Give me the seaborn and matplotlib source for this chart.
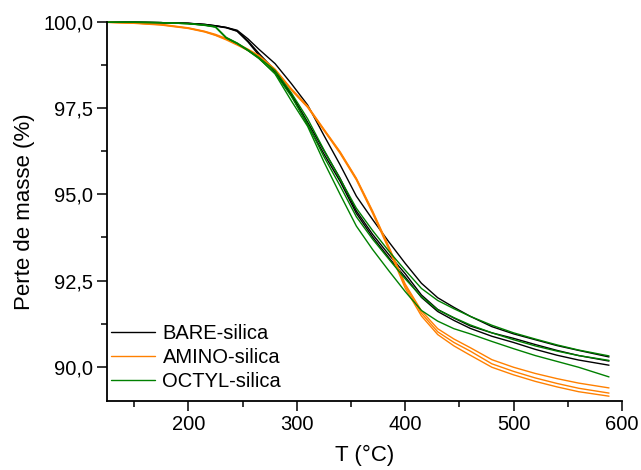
import numpy as np
import pandas as pd
import seaborn as sns
import matplotlib
matplotlib.use('Agg')
import matplotlib.pyplot as plt
from matplotlib.ticker import MultipleLocator, FuncFormatter

#temperature grid (°C) the curves were read at
temp = [125, 150, 175, 200, 215, 225, 235, 245, 255, 265, 280, 295, 310, 325, 340,
        355, 370, 385, 400, 415, 430, 445, 460, 480, 500, 520, 540, 560, 588]

#mass (%) - BARE-silica, 3 runs
bare_1 = [100.0, 100.0, 99.99, 99.97, 99.94, 99.90, 99.85, 99.77, 99.52, 99.22, 98.80, 98.22, 97.60, 96.72, 95.86,
          94.95, 94.27, 93.62, 93.00, 92.42, 92.00, 91.72, 91.46, 91.16, 90.95, 90.78, 90.61, 90.47, 90.28]
bare_2 = [100.0, 100.0, 99.99, 99.97, 99.94, 99.90, 99.85, 99.75, 99.46, 99.10, 98.60, 97.92, 97.10, 96.28, 95.47,
          94.52, 93.84, 93.25, 92.70, 92.08, 91.66, 91.41, 91.18, 90.98, 90.82, 90.64, 90.47, 90.32, 90.16]
bare_3 = [100.0, 100.0, 99.99, 99.97, 99.93, 99.89, 99.84, 99.74, 99.43, 99.05, 98.55, 97.88, 97.02, 96.18, 95.38,
          94.45, 93.76, 93.16, 92.60, 92.01, 91.60, 91.34, 91.11, 90.88, 90.70, 90.50, 90.33, 90.19, 90.04]

#AMINO-silica
amino_1 = [100.0, 99.98, 99.94, 99.84, 99.74, 99.65, 99.53, 99.38, 99.22, 99.04, 98.64, 98.07, 97.57, 96.90, 96.24,
           95.47, 94.52, 93.48, 92.40, 91.62, 91.10, 90.80, 90.55, 90.20, 89.98, 89.80, 89.65, 89.52, 89.38]
amino_2 = [100.0, 99.98, 99.93, 99.83, 99.73, 99.63, 99.51, 99.36, 99.20, 99.02, 98.62, 98.05, 97.55, 96.88, 96.22,
           95.45, 94.49, 93.45, 92.35, 91.55, 91.01, 90.70, 90.45, 90.08, 89.86, 89.67, 89.51, 89.37, 89.23]
amino_3 = [100.0, 99.97, 99.92, 99.82, 99.72, 99.62, 99.49, 99.34, 99.18, 99.00, 98.60, 98.03, 97.53, 96.86, 96.19,
           95.42, 94.45, 93.40, 92.28, 91.47, 90.93, 90.60, 90.33, 89.98, 89.76, 89.57, 89.41, 89.27, 89.14]

#OCTYL-silica
octyl_1 = [100.0, 100.0, 99.99, 99.96, 99.92, 99.87, 99.56, 99.40, 99.20, 98.98, 98.60, 97.95, 97.20, 96.30, 95.45,
           94.60, 93.95, 93.35, 92.80, 92.27, 91.92, 91.68, 91.46, 91.20, 90.98, 90.80, 90.63, 90.48, 90.31]
octyl_2 = [100.0, 100.0, 99.99, 99.96, 99.92, 99.87, 99.55, 99.39, 99.18, 98.95, 98.52, 97.85, 97.05, 96.10, 95.25,
           94.35, 93.70, 93.12, 92.55, 92.03, 91.65, 91.42, 91.21, 90.98, 90.78, 90.60, 90.45, 90.32, 90.18]
octyl_3 = [100.0, 100.0, 99.99, 99.96, 99.91, 99.86, 99.54, 99.38, 99.18, 98.96, 98.50, 97.72, 96.98, 95.95, 95.00,
           94.08, 93.40, 92.78, 92.18, 91.63, 91.32, 91.10, 90.95, 90.73, 90.52, 90.32, 90.15, 89.98, 89.70]

samples = {'BARE-silica': [bare_1, bare_2, bare_3],
           'AMINO-silica': [amino_1, amino_2, amino_3],
           'OCTYL-silica': [octyl_1, octyl_2, octyl_3]}
colours = {'BARE-silica': '#000000', 'AMINO-silica': '#FF8000', 'OCTYL-silica': '#008000'}

#long-form dataframe for seaborn
rows = []
for name, runs in samples.items():
    for i, run in enumerate(runs):
        for t, m in zip(temp, run):
            rows.append({'T': t, 'mass': m, 'sample': name, 'run': name + str(i)})
df = pd.DataFrame(rows)

sns.set_style('ticks')
plt.rcParams['font.family'] = ['Liberation Sans', 'DejaVu Sans']
plt.rcParams['font.size'] = 14.5
plt.rcParams['text.color'] = 'black'
plt.rcParams['axes.labelcolor'] = 'black'

fig = plt.figure(figsize=(6.41, 4.70), dpi=100)
ax = fig.add_axes([107/641, 1 - 401/470, 515/641, (401 - 22.3)/470])

sns.lineplot(data=df, x='T', y='mass', hue='sample', units='run', estimator=None,
             palette=colours, linewidth=1.0, ax=ax, legend=True, sort=False)
for ln in ax.get_lines():
    ln.set_clip_on(False)

ax.set_xlim(125, 600)
ax.set_ylim(89, 100)
ax.xaxis.set_major_locator(MultipleLocator(100))
ax.xaxis.set_minor_locator(MultipleLocator(50))
ax.yaxis.set_major_locator(MultipleLocator(2.5))
ax.yaxis.set_minor_locator(MultipleLocator(1.25))
ax.yaxis.set_major_formatter(FuncFormatter(lambda v, p: '{:.1f}'.format(v).replace('.', ',')))
ax.tick_params(which='major', direction='out', length=7, width=1.1, labelsize=14.5, colors='black', pad=3)
ax.tick_params(which='minor', direction='out', length=4, width=1.1, colors='black')
sns.despine(ax=ax)
for s in ['left', 'bottom']:
    ax.spines[s].set_linewidth(1.3)
    ax.spines[s].set_color('black')

ax.set_xlabel('T (°C)', fontsize=16, labelpad=8, color='black')
ax.set_ylabel('Perte de masse (%)', fontsize=16, labelpad=6, color='black')

handles, labels = ax.get_legend_handles_labels()
leg = ax.legend(handles, labels, loc='center left', bbox_to_anchor=(0.008, 0.115), frameon=False,
                fontsize=14.5, handlelength=2.2, handletextpad=0.35, labelspacing=0.25,
                borderpad=0, borderaxespad=0)
for h in leg.get_lines():
    h.set_linewidth(1.0)
for txt in leg.get_texts():
    txt.set_color('black')

fig.savefig('out.png', dpi=100)
